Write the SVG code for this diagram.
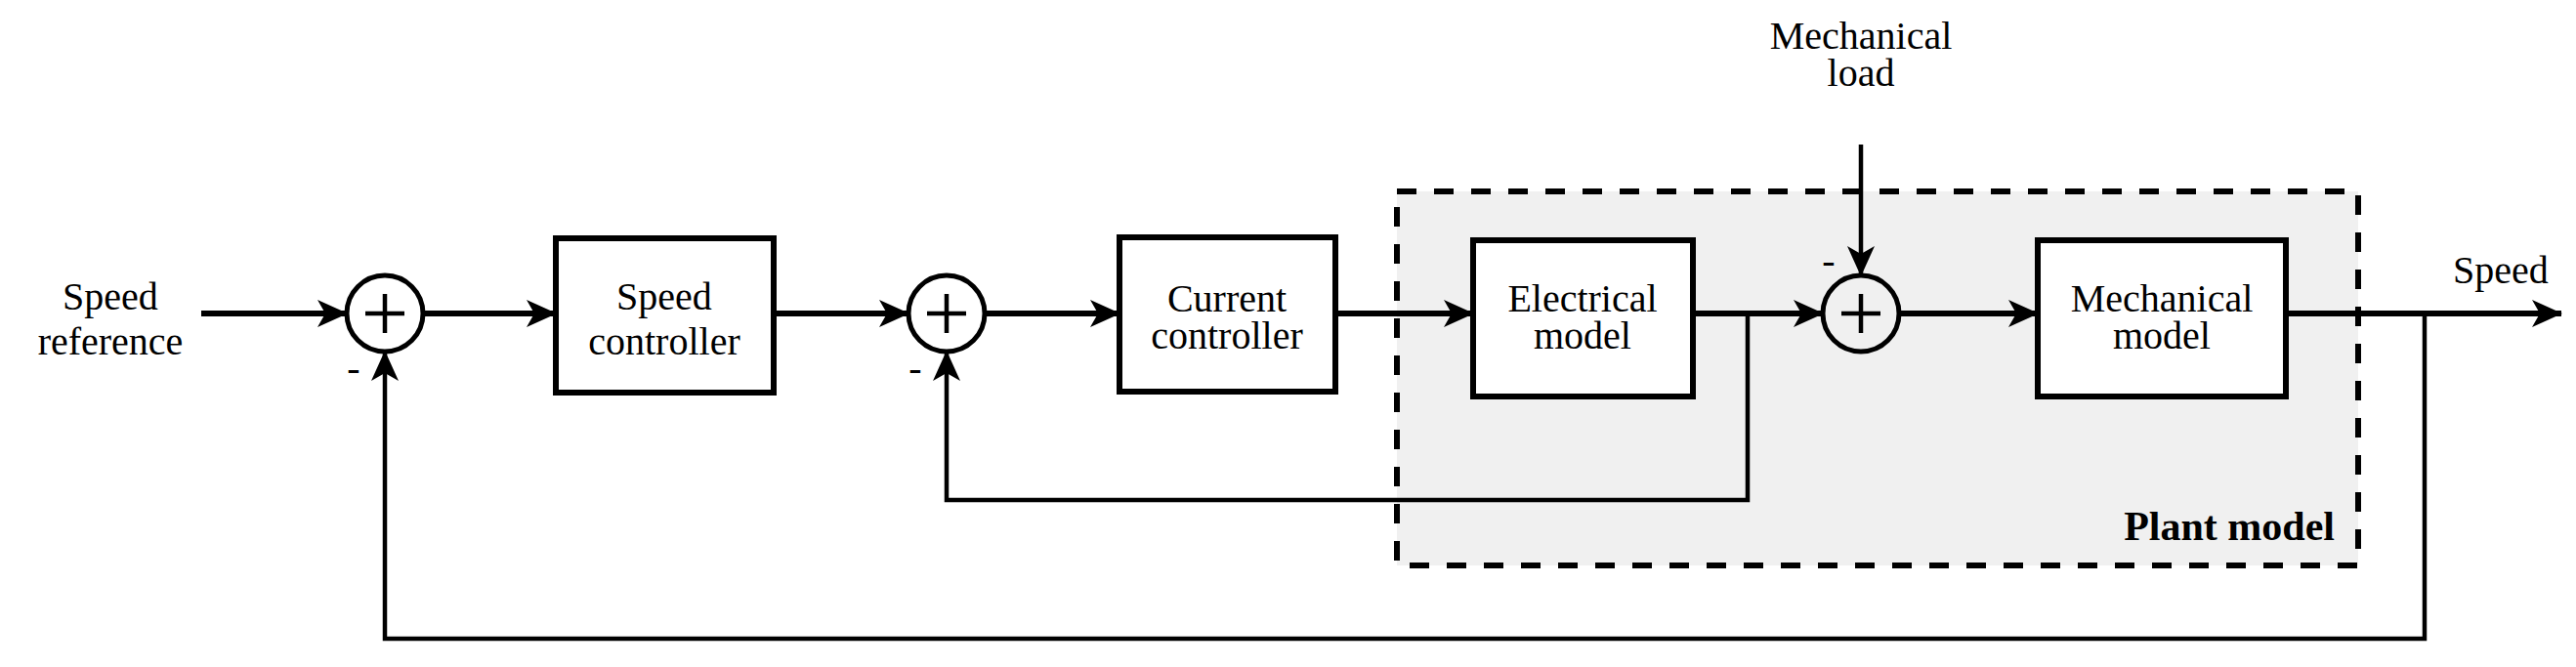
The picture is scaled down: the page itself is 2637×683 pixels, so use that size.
<svg xmlns="http://www.w3.org/2000/svg" width="2637" height="683" viewBox="0 0 2637 683">
<style>
text{font-family:"Liberation Serif",serif;font-size:40px;fill:#000;text-anchor:middle}
.b{fill:#fff;stroke:#000;stroke-width:6}
.s{fill:none;stroke:#000;stroke-width:5}
.l{fill:none;stroke:#000;stroke-width:6}
.f{fill:none;stroke:#000;stroke-width:4.5}
</style>
<defs>
<marker id="a" viewBox="-30 -15 32 30" refX="0" refY="0" markerWidth="32" markerHeight="30" markerUnits="userSpaceOnUse" orient="auto" overflow="visible">
<path d="M-30,-14 L1,0 L-30,14 L-22,0 Z" fill="#000"/>
</marker>
</defs>
<g id="plant">
<rect x="1430" y="196" width="984" height="383" fill="#f0f0f0" stroke="#000" stroke-width="6" stroke-dasharray="20,18"/>
<text x="2390" y="553" style="text-anchor:end;font-weight:bold;font-size:42px">Plant model</text>
</g>
<g id="connectors">
<path class="l" d="M206,321 H355" marker-end="url(#a)"/>
<path class="l" d="M433,321 H569" marker-end="url(#a)"/>
<path class="l" d="M792,321 H930" marker-end="url(#a)"/>
<path class="l" d="M1008,321 H1146" marker-end="url(#a)"/>
<path class="l" d="M1367,321 H1508" marker-end="url(#a)"/>
<path class="l" d="M1733,321 H1866" marker-end="url(#a)"/>
<path class="l" d="M1944,321 H2086" marker-end="url(#a)"/>
<path class="l" d="M2340,321 H2622" marker-end="url(#a)"/>
<path class="f" d="M1905,148 V282" marker-end="url(#a)"/>
<path class="f" d="M1789,321 V512 H969 V360" marker-end="url(#a)"/>
<path class="f" d="M2482,321 V654 H394 V360" marker-end="url(#a)"/>
</g>
<g id="sum1"><circle cx="394" cy="321" r="39" class="s" fill="#fff"/><path class="f" d="M374,321 H414 M394,301 V341"/><text x="362" y="390">-</text></g>
<g id="sum2"><circle cx="969" cy="321" r="39" class="s" fill="#fff"/><path class="f" d="M949,321 H989 M969,301 V341"/><text x="937" y="390">-</text></g>
<g id="sum3"><circle cx="1905" cy="321" r="39" class="s" fill="#fff"/><path class="f" d="M1885,321 H1925 M1905,301 V341"/><text x="1872" y="280">-</text></g>
<g id="speedref"><text x="113" y="317">Speed</text><text x="113" y="363">reference</text></g>
<g id="speedctrl"><rect class="b" x="569" y="244" width="223" height="158"/><text x="680" y="317">Speed</text><text x="680" y="363">controller</text></g>
<g id="currctrl"><rect class="b" x="1146" y="243" width="221" height="158"/><text x="1256" y="319">Current</text><text x="1256" y="357">controller</text></g>
<g id="elec"><rect class="b" x="1508" y="246" width="225" height="160"/><text x="1620" y="319">Electrical</text><text x="1620" y="357">model</text></g>
<g id="mech"><rect class="b" x="2086" y="246" width="254" height="160"/><text x="2213" y="319">Mechanical</text><text x="2213" y="357">model</text></g>
<g id="load"><text x="1905" y="50">Mechanical</text><text x="1905" y="88">load</text></g>
<g id="speed"><text x="2560" y="290">Speed</text></g>
</svg>
